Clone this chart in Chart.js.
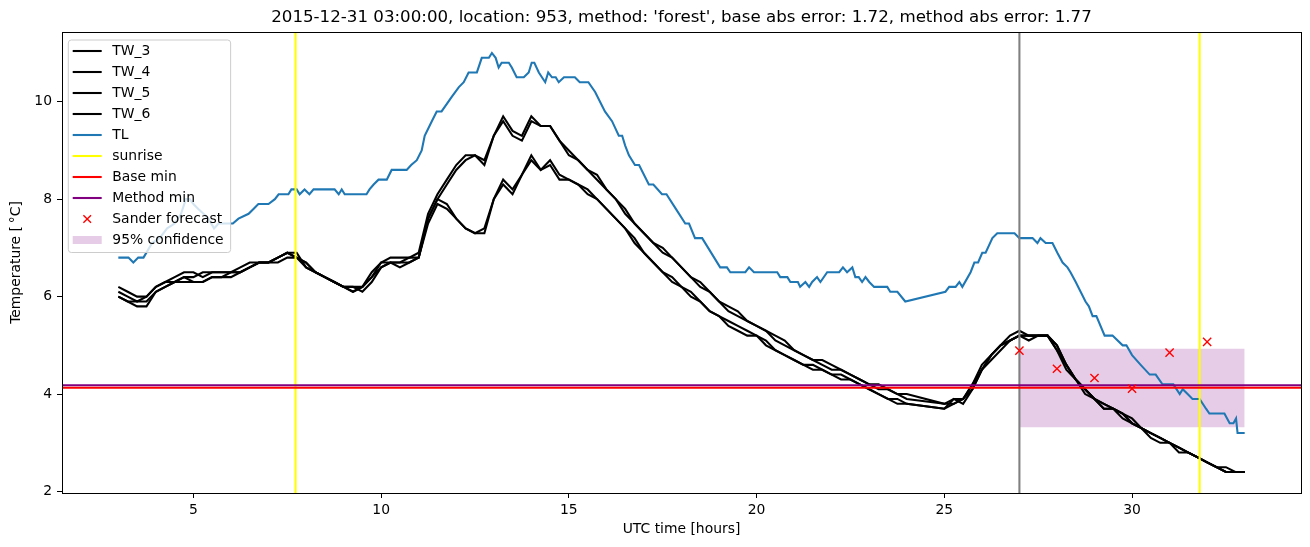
<!DOCTYPE html>
<html>
<head>
<meta charset="utf-8">
<script src="https://cdn.jsdelivr.net/npm/chart.js@4.4.1/dist/chart.umd.min.js"></script>
<style>
    body { margin: 0; background: #fff; }
    #wrap { width: 1310px; height: 547px; }
</style>
</head>
<body>
<div id="wrap"><canvas id="myChart" width="1310" height="547"></canvas></div>
<script>
// data ===============================================================
const titleText = "2015-12-31 03:00:00, location: 953, method: 'forest', base abs error: 1.72, method abs error: 1.77";

const xTicks = [5, 10, 15, 20, 25, 30];
const yTicks = [2, 4, 6, 8, 10];

// water temperature sensors, sampled every 15 min (gap 24-25 h)
const twHours = [
    3, 3.25, 3.5, 3.75, 4, 4.25, 4.5, 4.75,
    5, 5.25, 5.5, 5.75, 6, 6.25, 6.5, 6.75,
    7, 7.25, 7.5, 7.75, 8, 8.25, 8.5, 8.75,
    9, 9.25, 9.5, 9.75, 10, 10.25, 10.5, 10.75,
    11, 11.25, 11.5, 11.75, 12, 12.25, 12.5, 12.75,
    13, 13.25, 13.5, 13.75, 14, 14.25, 14.5, 14.75,
    15, 15.25, 15.5, 15.75, 16, 16.25, 16.5, 16.75,
    17, 17.25, 17.5, 17.75, 18, 18.25, 18.5, 18.75,
    19, 19.25, 19.5, 19.75, 20, 20.25, 20.5, 20.75,
    21, 21.25, 21.5, 21.75, 22, 22.25, 22.5, 22.75,
    23, 23.25, 23.5, 23.75, 24,
    25, 25.25, 25.5, 25.75, 26, 26.25, 26.5, 26.75,
    27, 27.25, 27.5, 27.75, 28, 28.25, 28.5, 28.75,
    29, 29.25, 29.5, 29.75, 30, 30.25, 30.5, 30.75,
    31, 31.25, 31.5, 31.75, 32, 32.25, 32.5, 32.75,
    33
];
const tw3 = [
    6.2, 6.1, 6.0, 6.0, 6.2, 6.3, 6.4, 6.5,
    6.5, 6.4, 6.5, 6.5, 6.5, 6.6, 6.7, 6.7,
    6.7, 6.8, 6.9, 6.8, 6.7, 6.5, 6.4, 6.3,
    6.2, 6.1, 6.2, 6.5, 6.7, 6.8, 6.8, 6.8,
    6.9, 7.7, 8.1, 8.4, 8.7, 8.9, 8.9, 8.8,
    9.3, 9.7, 9.4, 9.3, 9.7, 9.5, 9.5, 9.2,
    9.0, 8.8, 8.6, 8.5, 8.2, 8.0, 7.8, 7.5,
    7.3, 7.1, 7.0, 6.8, 6.6, 6.4, 6.3, 6.1,
    5.9, 5.8, 5.7, 5.5, 5.4, 5.3, 5.2, 5.1,
    4.9, 4.8, 4.7, 4.7, 4.6, 4.5, 4.4, 4.3,
    4.2, 4.2, 4.1, 4.0, 4.0,
    3.8, 3.9, 3.9, 4.2, 4.6, 4.8, 5.0, 5.2,
    5.3, 5.2, 5.2, 5.2, 4.9, 4.6, 4.3, 4.1,
    3.9, 3.8, 3.7, 3.6, 3.4, 3.3, 3.2, 3.1,
    3.0, 2.9, 2.8, 2.7, 2.6, 2.5, 2.4, 2.4,
    2.4
];
const tw4 = [
    6.1, 6.0, 5.9, 6.0, 6.2, 6.3, 6.3, 6.4,
    6.4, 6.5, 6.5, 6.5, 6.5, 6.5, 6.6, 6.7,
    6.7, 6.8, 6.9, 6.9, 6.6, 6.5, 6.4, 6.3,
    6.2, 6.2, 6.2, 6.4, 6.7, 6.7, 6.7, 6.8,
    6.8, 7.6, 8.0, 8.3, 8.6, 8.8, 8.9, 8.7,
    9.3, 9.6, 9.3, 9.2, 9.6, 9.5, 9.5, 9.2,
    8.9, 8.8, 8.6, 8.4, 8.2, 8.0, 7.7, 7.5,
    7.3, 7.1, 6.9, 6.8, 6.6, 6.4, 6.2, 6.1,
    5.9, 5.7, 5.6, 5.5, 5.4, 5.3, 5.1, 5.0,
    4.9, 4.8, 4.7, 4.6, 4.5, 4.5, 4.4, 4.3,
    4.2, 4.1, 4.1, 4.0, 3.9,
    3.8, 3.8, 3.9, 4.2, 4.5, 4.8, 5.0, 5.1,
    5.2, 5.2, 5.2, 5.2, 5.0, 4.6, 4.3, 4.1,
    3.9, 3.7, 3.7, 3.6, 3.5, 3.3, 3.2, 3.1,
    3.0, 2.9, 2.8, 2.7, 2.6, 2.5, 2.5, 2.4,
    2.4
];
const tw5 = [
    6.0, 5.9, 5.9, 5.9, 6.1, 6.2, 6.3, 6.4,
    6.3, 6.3, 6.4, 6.4, 6.5, 6.5, 6.6, 6.7,
    6.7, 6.7, 6.8, 6.8, 6.7, 6.5, 6.4, 6.3,
    6.2, 6.1, 6.2, 6.4, 6.6, 6.7, 6.7, 6.7,
    6.8, 7.6, 8.0, 7.9, 7.6, 7.4, 7.3, 7.4,
    8.0, 8.4, 8.2, 8.5, 8.9, 8.6, 8.8, 8.5,
    8.4, 8.3, 8.2, 8.0, 7.8, 7.6, 7.4, 7.2,
    6.9, 6.7, 6.5, 6.4, 6.2, 6.1, 5.9, 5.7,
    5.6, 5.5, 5.4, 5.3, 5.2, 5.1, 4.9, 4.8,
    4.7, 4.6, 4.6, 4.5, 4.4, 4.4, 4.3, 4.2,
    4.1, 4.0, 3.9, 3.9, 3.8,
    3.7, 3.9, 3.8, 4.1, 4.5, 4.8, 5.0, 5.1,
    5.2, 5.2, 5.2, 5.2, 4.9, 4.5, 4.3, 4.1,
    3.9, 3.8, 3.7, 3.6, 3.4, 3.3, 3.2, 3.1,
    3.0, 2.9, 2.8, 2.7, 2.6, 2.5, 2.4, 2.4,
    2.4
];
const tw6 = [
    6.0, 5.9, 5.8, 5.8, 6.1, 6.2, 6.3, 6.3,
    6.3, 6.3, 6.4, 6.4, 6.4, 6.5, 6.6, 6.7,
    6.7, 6.8, 6.9, 6.8, 6.6, 6.5, 6.4, 6.3,
    6.2, 6.2, 6.1, 6.3, 6.6, 6.7, 6.6, 6.7,
    6.8, 7.5, 7.9, 7.8, 7.6, 7.4, 7.3, 7.3,
    8.0, 8.3, 8.1, 8.5, 8.8, 8.6, 8.7, 8.4,
    8.4, 8.3, 8.1, 8.0, 7.8, 7.6, 7.4, 7.1,
    6.9, 6.7, 6.5, 6.3, 6.2, 6.0, 5.9, 5.7,
    5.6, 5.4, 5.3, 5.2, 5.2, 5.0, 4.9, 4.8,
    4.7, 4.6, 4.5, 4.5, 4.4, 4.3, 4.3, 4.2,
    4.1, 4.0, 3.9, 3.8, 3.8,
    3.7, 3.8, 3.9, 4.1, 4.5, 4.7, 4.9, 5.1,
    5.2, 5.1, 5.2, 5.2, 5.0, 4.6, 4.3, 4.0,
    3.9, 3.7, 3.7, 3.5, 3.4, 3.3, 3.1, 3.0,
    3.0, 2.8, 2.8, 2.7, 2.6, 2.5, 2.4, 2.4,
    2.4
];

// air temperature
const tlHours = [
    3.0, 3.27, 3.4, 3.53, 3.67, 3.9, 4.1, 4.3, 4.5, 4.67,
    4.8, 4.9, 5.0, 5.13, 5.27, 5.4, 5.55, 5.67, 6.05, 6.2,
    6.47, 6.6, 6.73, 7.0, 7.17, 7.27, 7.53, 7.61, 7.75, 7.83,
    7.96, 8.09, 8.2, 8.76, 8.87, 8.95, 9.03, 9.61, 9.69, 9.8,
    9.93, 10.15, 10.28, 10.68, 10.8, 10.95, 11.08, 11.16, 11.35, 11.48,
    11.61, 11.88, 12.07, 12.2, 12.33, 12.55, 12.68, 12.87, 12.95, 13.05,
    13.13, 13.21, 13.4, 13.48, 13.61, 13.8, 13.93, 14.01, 14.08, 14.2,
    14.37, 14.45, 14.55, 14.65, 14.73, 14.87, 15.16, 15.29, 15.52, 15.7,
    15.96, 16.15, 16.33, 16.42, 16.5, 16.6, 16.76, 16.87, 17.13, 17.25,
    17.48, 17.6, 17.85, 18.1, 18.2, 18.36, 18.55, 19.03, 19.21, 19.3,
    19.7, 19.8, 19.93, 20.55, 20.63, 20.82, 20.9, 21.1, 21.16, 21.3,
    21.4, 21.48, 21.61, 21.7, 21.88, 22.2, 22.3, 22.41, 22.55, 22.63,
    22.72, 22.81, 22.9, 23.0, 23.13, 23.48, 23.56, 23.75, 23.96, 25.03,
    25.13, 25.3, 25.4, 25.48, 25.7, 25.8, 25.9, 26.01, 26.1, 26.28,
    26.41, 26.87, 27.0, 27.35, 27.48, 27.56, 27.7, 27.88, 28.01, 28.15,
    28.28, 28.36, 28.5, 28.76, 28.85, 28.95, 29.05, 29.27, 29.48, 29.75,
    29.85, 30.0, 30.23, 30.47, 30.63, 30.81, 31.1, 31.27, 31.35, 31.48,
    31.61, 31.8, 31.97, 32.06, 32.46, 32.6, 32.7, 32.77, 32.81, 33.0
];
const tlTemp = [
    6.8, 6.8, 6.7, 6.8, 6.8, 7.1, 7.2, 7.4, 7.5, 7.7,
    8.0, 8.0, 7.9, 7.8, 7.7, 7.6, 7.4, 7.5, 7.5, 7.6,
    7.7, 7.8, 7.9, 7.9, 8.0, 8.1, 8.1, 8.2, 8.2, 8.1,
    8.2, 8.1, 8.2, 8.2, 8.1, 8.2, 8.1, 8.1, 8.2, 8.3,
    8.4, 8.4, 8.6, 8.6, 8.7, 8.8, 9.0, 9.3, 9.6, 9.8,
    9.8, 10.1, 10.3, 10.4, 10.6, 10.6, 10.9, 10.9, 11.0, 10.9,
    10.7, 10.8, 10.8, 10.7, 10.5, 10.5, 10.6, 10.8, 10.8, 10.6,
    10.4, 10.6, 10.5, 10.5, 10.4, 10.5, 10.5, 10.4, 10.4, 10.2,
    9.8, 9.6, 9.3, 9.3, 9.1, 8.9, 8.7, 8.7, 8.3, 8.3,
    8.1, 8.1, 7.8, 7.5, 7.5, 7.2, 7.2, 6.6, 6.6, 6.5,
    6.5, 6.6, 6.5, 6.5, 6.4, 6.4, 6.3, 6.3, 6.2, 6.3,
    6.2, 6.3, 6.4, 6.3, 6.5, 6.5, 6.6, 6.5, 6.6, 6.4,
    6.4, 6.3, 6.4, 6.3, 6.2, 6.2, 6.1, 6.1, 5.9, 6.1,
    6.2, 6.2, 6.3, 6.2, 6.5, 6.7, 6.7, 6.9, 6.9, 7.2,
    7.3, 7.3, 7.2, 7.2, 7.1, 7.2, 7.1, 7.1, 6.9, 6.7,
    6.6, 6.5, 6.3, 5.9, 5.8, 5.6, 5.6, 5.2, 5.2, 5.0,
    5.0, 4.8, 4.6, 4.4, 4.4, 4.2, 4.2, 4.0, 4.1, 4.0,
    3.9, 3.9, 3.7, 3.6, 3.6, 3.4, 3.4, 3.5, 3.2, 3.2
];

const sunriseHours = [7.72, 31.8];
const nowHour = 27.0;
const baseMin = 4.13;
const methodMin = 4.18;

const sanderHours = [27, 28, 29, 30, 31, 32];
const sanderTemp = [4.89, 4.52, 4.33, 4.11, 4.85, 5.07];

const confHours = [27, 33];
const confRange = [3.32, 4.93]; // low, high

// helpers ===============================================================
function pts(xs, ys) {
    return xs.map((x, i) => ({ x: x, y: ys[i] }));
}
function vline(x) {
    return [{ x: x, y: -10 }, { x: x, y: 30 }];
}
function hline(y) {
    return [{ x: -10, y: y }, { x: 50, y: y }];
}
function lineSet(label, data, color, width, order) {
    return {
        label: label, data: data, borderColor: color, backgroundColor: color,
        borderWidth: width, pointRadius: 0, tension: 0, fill: false, order: order
    };
}

// plugins ===============================================================
function chartBorder(_width, _color) {
    return {
        id: 'chartAreaBorder',
        afterDraw(chart) {
            const { ctx, chartArea: { left, top, width, height } } = chart;
            ctx.save();
            ctx.strokeStyle = _color;
            ctx.lineWidth = _width;
            ctx.strokeRect(Math.round(left) + 0.5, Math.round(top) + 0.5, Math.round(width), Math.round(height));
            ctx.restore();
        }
    };
}

function mplLegend() {
    return {
        id: 'mplLegend',
        afterDraw(chart) {
            const ctx = chart.ctx;
            const items = chart.data.datasets.filter(d => !d.label.startsWith('_'));
            ctx.save();
            ctx.font = '13.9px "DejaVu Sans"';
            let tw = 0;
            items.forEach(d => { tw = Math.max(tw, ctx.measureText(d.label).width); });
            const x0 = chart.chartArea.left + 6.3, y0 = chart.chartArea.top + 8;
            const rowH = 21;
            const w = 44 + tw + 7;
            const h = 11 + (items.length - 1) * rowH + 12.5;
            const r = 3;
            ctx.beginPath();
            ctx.moveTo(x0 + r, y0);
            ctx.lineTo(x0 + w - r, y0);
            ctx.arcTo(x0 + w, y0, x0 + w, y0 + r, r);
            ctx.lineTo(x0 + w, y0 + h - r);
            ctx.arcTo(x0 + w, y0 + h, x0 + w - r, y0 + h, r);
            ctx.lineTo(x0 + r, y0 + h);
            ctx.arcTo(x0, y0 + h, x0, y0 + h - r, r);
            ctx.lineTo(x0, y0 + r);
            ctx.arcTo(x0, y0, x0 + r, y0, r);
            ctx.closePath();
            ctx.fillStyle = 'rgba(255,255,255,0.8)';
            ctx.fill();
            ctx.strokeStyle = '#cccccc';
            ctx.lineWidth = 1;
            ctx.stroke();

            items.forEach((d, i) => {
                const y = y0 + 11 + i * rowH;
                const hx = x0 + 4.4, hl = 29;
                if (d.showLine === false) {
                    const cx = hx + hl / 2, s = 3.8;
                    ctx.strokeStyle = d.borderColor;
                    ctx.lineWidth = 1.4;
                    ctx.beginPath();
                    ctx.moveTo(cx - s, y - s); ctx.lineTo(cx + s, y + s);
                    ctx.moveTo(cx - s, y + s); ctx.lineTo(cx + s, y - s);
                    ctx.stroke();
                } else if (d.fill) {
                    ctx.fillStyle = d.backgroundColor;
                    ctx.fillRect(hx, y - 4, hl, 8);
                } else {
                    ctx.strokeStyle = d.borderColor;
                    ctx.lineWidth = d.borderWidth;
                    ctx.beginPath();
                    ctx.moveTo(hx, y);
                    ctx.lineTo(hx + hl, y);
                    ctx.stroke();
                }
                ctx.fillStyle = '#000';
                ctx.textBaseline = 'middle';
                ctx.textAlign = 'left';
                ctx.fillText(d.label, x0 + 44, y + 0.5);
            });
            ctx.restore();
        }
    };
}

// chart ===============================================================
Chart.defaults.font.family = "'DejaVu Sans', sans-serif";
Chart.defaults.font.size = 13.9;
Chart.defaults.color = '#000';

const sander = {
    label: 'Sander forecast', data: pts(sanderHours, sanderTemp),
    showLine: false, pointStyle: 'crossRot', pointRadius: 5.8, pointBorderWidth: 1.4,
    borderColor: 'red', backgroundColor: 'red', order: 1
};
const conf = {
    label: '95% confidence',
    data: pts(confHours, [confRange[1], confRange[1]]),
    fill: { value: confRange[0] },
    backgroundColor: 'rgba(128,0,128,0.2)', borderColor: 'rgba(0,0,0,0)',
    borderWidth: 0, pointRadius: 0, order: 20
};

const lw = 2.08;
const datasets = [
    lineSet('TW_3', pts(twHours, tw3), '#000', lw, 6),
    lineSet('TW_4', pts(twHours, tw4), '#000', lw, 6),
    lineSet('TW_5', pts(twHours, tw5), '#000', lw, 6),
    lineSet('TW_6', pts(twHours, tw6), '#000', lw, 6),
    lineSet('TL', pts(tlHours, tlTemp), '#1f77b4', lw, 5),
    lineSet('sunrise', vline(sunriseHours[0]), 'yellow', lw, 4),
    lineSet('_sunrise2', vline(sunriseHours[1]), 'yellow', lw, 4),
    lineSet('Base min', hline(baseMin), 'red', lw, 3),
    lineSet('Method min', hline(methodMin), 'purple', lw, 3),
    lineSet('_now', vline(nowHour), 'grey', lw, 3),
    sander,
    conf
];

new Chart(document.getElementById('myChart'), {
    type: 'line',
    data: { datasets: datasets },
    options: {
        responsive: false,
        animation: false,
        devicePixelRatio: 1,
        events: [],
        layout: { padding: { left: 0, right: 9, top: 0, bottom: 0 } },
        plugins: {
            legend: { display: false },
            tooltip: { enabled: false },
            title: {
                display: true,
                text: titleText,
                fullSize: false,
                font: { size: 16.67, weight: 'normal' },
                color: '#000',
                padding: { top: 8, bottom: 4 }
            }
        },
        scales: {
            x: {
                type: 'linear',
                min: 1.5, max: 34.5,
                afterFit: (s) => { s.height = 54; },
                afterBuildTicks: (s) => { s.ticks = xTicks.map(v => ({ value: v })); },
                ticks: { padding: 4, maxRotation: 0 },
                grid: { drawOnChartArea: false, drawTicks: true, tickLength: 5, tickColor: '#000', tickWidth: 1 },
                border: { display: true, color: '#000', width: 1 },
                title: { display: true, text: 'UTC time [hours]', padding: { top: 0, bottom: 9.5 } }
            },
            y: {
                type: 'linear',
                min: 1.97, max: 11.43,
                afterFit: (s) => { s.width = 62; },
                afterBuildTicks: (s) => { s.ticks = yTicks.map(v => ({ value: v })); },
                ticks: { padding: 5 },
                grid: { drawOnChartArea: false, drawTicks: true, tickLength: 5, tickColor: '#000', tickWidth: 1 },
                border: { display: true, color: '#000', width: 1 },
                title: { display: true, text: 'Temperature [\u2009°C]', padding: { top: 8.5, bottom: 0 } }
            }
        }
    },
    plugins: [chartBorder(1, '#000'), mplLegend()]
});
</script>
</body>
</html>
